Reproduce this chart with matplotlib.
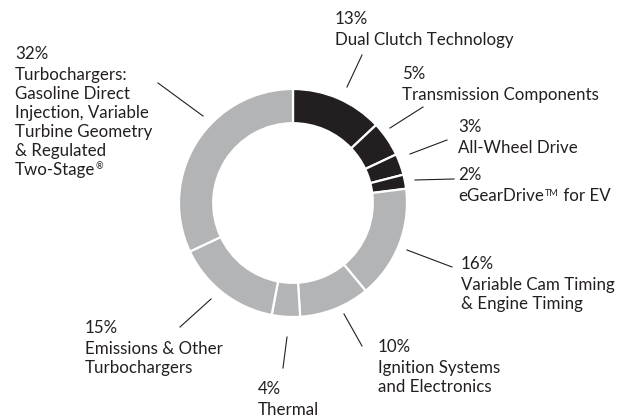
import matplotlib
matplotlib.use("Agg")
import matplotlib.pyplot as plt

# ---- data ----
segments = ["Dual Clutch Technology", "Transmission Components", "All-Wheel Drive",
            "eGearDrive for EV", "Variable Cam Timing & Engine Timing",
            "Ignition Systems and Electronics", "Thermal",
            "Emissions & Other Turbochargers",
            "Turbochargers: Gasoline Direct Injection, Variable Turbine Geometry & Regulated Two-Stage"]
values = [13, 5, 3, 2, 16, 10, 4, 15, 32]
percent_texts = ["13%", "5%", "3%", "2%", "16%", "10%", "4%", "15%", "32%"]
# "^{...}" marks a small superscript piece inside a line
name_texts = [
    "Dual Clutch Technology",
    "Transmission Components",
    "All-Wheel Drive",
    "eGearDrive^{TM} for EV",
    "Variable Cam Timing\n& Engine Timing",
    "Ignition Systems\nand Electronics",
    "Thermal",
    "Emissions & Other\nTurbochargers",
    "Turbochargers:\nGasoline Direct\nInjection, Variable\nTurbine Geometry\n& Regulated\nTwo-Stage^{\u00ae}",
]
groups = ["dark", "dark", "dark", "dark", "light", "light", "light", "light", "light"]

# ---- layout (pixel space, y from top) ----
W, H = 626, 417
center = (293, 203)
radius = 114
ring = 0.30
text_pos = [(335, 11), (402, 66), (458, 119), (458, 167), (461, 256),
            (378, 339), (258, 381), (85, 320), (15, 46)]
name_gap = 21
line_step = 19
leaders = [((362, 55), (347, 87)), ((423, 107), (390, 128)), ((447, 140), (410, 154)),
           ((454, 179), (415, 180)), ((452, 267), (407, 250)), ((362, 346), (344, 314)),
           ((283, 368), (287, 337)), ((180, 327), (211, 299)), ((158, 83), (203, 116))]
colors = {"dark": "#231f20", "light": "#b3b4b6"}
text_color = "#231f20"
fs = 12.2
fs_sup = 6.5
fam = ["Lato", "DejaVu Sans"]

fig = plt.figure(figsize=(W / 100, H / 100), dpi=100)
ax = fig.add_axes([0, 0, 1, 1])

# pie drawn with inverted y: counterclock=True in data gives clockwise on screen
wedges, _ = ax.pie(values, colors=[colors[g] for g in groups], startangle=-90,
                   counterclock=True, center=center, radius=radius,
                   wedgeprops=dict(width=radius * ring, edgecolor="white", linewidth=1.6),
                   frame=True)
ax.set_xlim(0, W)
ax.set_ylim(H, 0)
ax.set_aspect("equal")
ax.axis("off")

renderer = fig.canvas.get_renderer()
inv = ax.transData.inverted()


def draw_line(x, y, s):
    # split into normal / superscript pieces
    pieces = []
    while "^{" in s:
        a = s.index("^{")
        b = s.index("}", a)
        pieces.append((s[:a], False))
        pieces.append((s[a + 2:b], True))
        s = s[b + 1:]
    pieces.append((s, False))
    cx = x
    for txt, sup in pieces:
        if not txt:
            continue
        if sup:
            t = ax.text(cx + 0.5, y + 0.5, txt, ha="left", va="top", fontsize=fs_sup,
                        family=fam, color=text_color)
        else:
            t = ax.text(cx, y, txt, ha="left", va="top", fontsize=fs, family=fam,
                        color=text_color)
        bb = t.get_window_extent(renderer)
        cx = inv.transform((bb.x1, bb.y1))[0] + (0.5 if sup else 0)


for (x, y), p, t in zip(text_pos, percent_texts, name_texts):
    draw_line(x, y, p)
    for i, line in enumerate(t.split("\n")):
        draw_line(x, y + name_gap + i * line_step, line)

for (p1, p2) in leaders:
    ax.plot([p1[0], p2[0]], [p1[1], p2[1]], color=text_color, lw=0.8)

fig.savefig("out.png", dpi=100)
